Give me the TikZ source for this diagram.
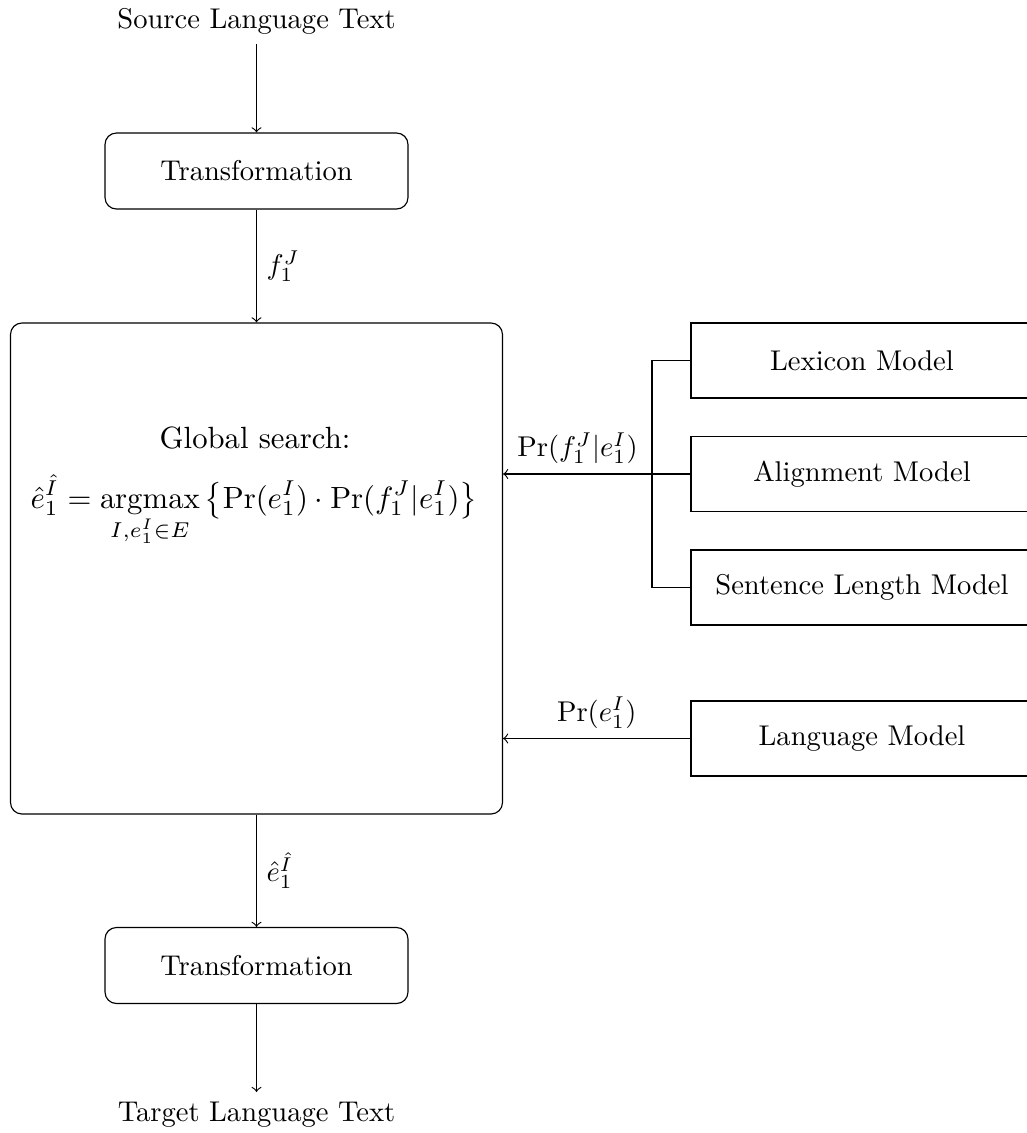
\documentclass[tikz,border=0pt]{standalone}
\usepackage{amsmath}
\usetikzlibrary{calc}
\begin{document}
\begin{tikzpicture}[x=0.35pt,y=-0.35pt,
  roundbox/.style={draw,rounded corners,minimum width=106.05pt,minimum height=26.6pt,inner sep=0pt},
  modelbox/.style={draw,minimum width=119.7pt,minimum height=26.25pt,inner sep=0pt},
  flow/.style={->}]
\useasboundingbox (0,0) rectangle (1027,1133);

% main chain
\node[anchor=base] (src) at (256.5,28) {Source Language Text};
\node[roundbox] (t1) at (256.5,171) {Transformation};
\node[draw,rounded corners,minimum width=172.2pt,minimum height=171.85pt] (search) at (256.5,568.5) {};
\node[anchor=base] (gs) at (255,448) {\scalebox{1.075}{Global search:}};
\node[anchor=base] (rule) at (254,508)
  {\scalebox{1.075}{$\displaystyle \hat{e}_1^{\hat{I}} = \operatorname*{argmax}_{I,e_1^I\in E}\,\bigl\{\Pr(e_1^I)\cdot\Pr(f_1^J|e_1^I)\bigr\}$}};
\node[roundbox] (t2) at (256.5,965.5) {Transformation};
\node[anchor=north] (tgt) at (256.5,1092) {Target Language Text};

% knowledge sources
\node[modelbox] (lex) at (862,360.5) {Lexicon Model};
\node[modelbox] (ali) at (862,474) {Alignment Model};
\node[modelbox] (sen) at (862,587.5) {Sentence Length Model};
\node[modelbox] (lan) at (862,738.5) {Language Model};
\coordinate (hub) at (652,474);

% connectors
\draw[flow] (src) -- (t1);
\draw[flow] (t1) -- node[right] {$f_1^J$} (search);
\draw[flow] (search) -- node[right] {$\hat{e}_1^{\hat{I}}$} (t2);
\draw[flow] (t2) -- (tgt);

\draw (lex.west) -| (hub) |- (sen.west);
\draw (ali.west) -- (hub);
\draw[flow] (hub) -- node[above] {$\Pr(f_1^J|e_1^I)$} (hub -| search.east);
\draw[flow] (lan.west) -- node[above] {$\Pr(e_1^I)$} (lan.west -| search.east);
\end{tikzpicture}
\end{document}
